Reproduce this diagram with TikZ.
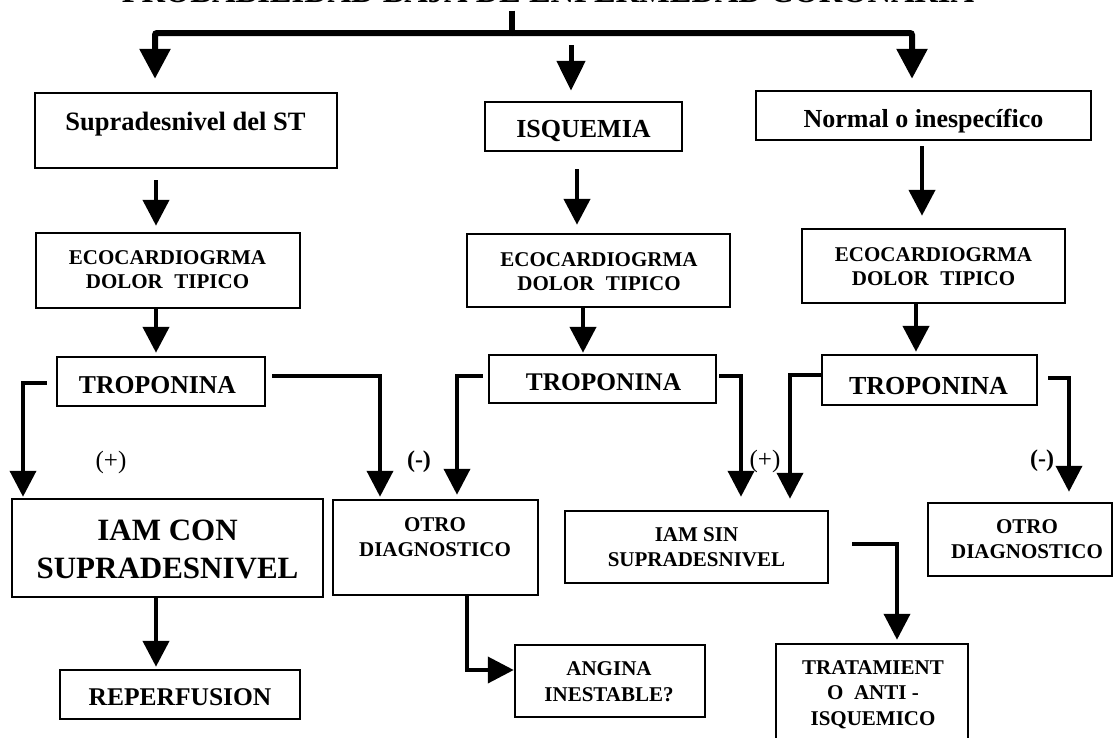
\documentclass[tikz,border=0pt]{standalone}
\usepackage{fontspec}
\setmainfont{Liberation Serif}
\usetikzlibrary{arrows.meta}
\newcommand\mlines[1]{\begin{tabular}[t]{@{}c@{}}#1\end{tabular}}
\newcommand\fsz[2]{\fontsize{#1}{#2}\selectfont}
\newcommand\mkbox[5]{%
  \pgfmathsetmacro\mkbcx{(#2+#4)/2}%
  \pgfmathsetmacro\mkbcy{(#3+#5)/2}%
  \pgfmathsetmacro\mkbw{#4-#2}%
  \pgfmathsetmacro\mkbh{#5-#3}%
  \node[box, minimum width=\mkbw pt, minimum height=\mkbh pt] (#1) at (\mkbcx,\mkbcy) {};}
\begin{document}
\begin{tikzpicture}[x=1pt,y=-1pt,
  box/.style={draw, line width=2.5pt, inner sep=0pt, rectangle},
  lbl/.style={anchor=base, inner sep=0pt},
  arr/.style={line width=4.5pt, -{Triangle[length=26pt,width=26pt]}},
  bendarr/.style={line width=4pt, -{Triangle[length=26pt,width=26pt]}},
  toparr/.style={line width=6pt, rounded corners=2pt, -{Triangle[length=30pt,width=30pt]}},
  big/.style={font=\bfseries\fsz{26.5}{30}},
  small/.style={font=\bfseries\fsz{21}{24}},
  sign/.style={anchor=center, inner sep=0pt, font=\fsz{25}{28}},
]
\useasboundingbox (0,0) rectangle (1114,737);
\fill[white] (0,0) rectangle (1114,737);

% title (cut at top edge, as in the reference)
\node[lbl, font=\bfseries\fsz{32.5}{36}] (title) at (548,2.5) {PROBABILIDAD BAJA DE ENFERMEDAD CORONARIA};

% boxes
\mkbox{st}{35}{93}{337}{168}
\mkbox{isq}{485}{102}{682}{151}
\mkbox{nor}{756}{91}{1091}{140}
\mkbox{eco1}{36}{233}{300}{308}
\mkbox{eco2}{467}{234}{730}{307}
\mkbox{eco3}{802}{229}{1065}{303}
\mkbox{trop1}{57}{357}{265}{406}
\mkbox{trop2}{489}{355}{716}{403}
\mkbox{trop3}{822}{355}{1037}{405}
\mkbox{iamcon}{12}{499}{323}{597}
\mkbox{otro1}{333}{500}{538}{595}
\mkbox{iamsin}{565}{511}{828}{583}
\mkbox{otro2}{928}{503}{1112}{576}
\mkbox{rep}{60}{670}{300}{719}
\mkbox{ang}{515}{645}{705}{717}
\mkbox{trat}{776}{644}{968}{770}

% texts
\node[lbl, big] (stT) at (185.5,130) {Supradesnivel del ST};
\node[lbl, font=\bfseries\fsz{26}{30}] (isqT) at (583.5,137) {ISQUEMIA};
\node[lbl, font=\bfseries\fsz{26}{30}] (norT) at (923.5,127) {Normal o inespecífico};
\node[lbl, small] (eco1T) at (167.5,264) {\mlines{ECOCARDIOGRMA\\DOLOR\hspace{0.55em}TIPICO}};
\node[lbl, small] (eco2T) at (599,266) {\mlines{ECOCARDIOGRMA\\DOLOR\hspace{0.55em}TIPICO}};
\node[lbl, small] (eco3T) at (933.5,261) {\mlines{ECOCARDIOGRMA\\DOLOR\hspace{0.55em}TIPICO}};
\node[lbl, font=\bfseries\fsz{25.7}{30}] (trop1T) at (157.5,393) {TROPONINA};
\node[lbl, font=\bfseries\fsz{25.4}{30}] (trop2T) at (603.5,390) {TROPONINA};
\node[lbl, font=\bfseries\fsz{26}{30}] (trop3T) at (928.5,394) {TROPONINA};
\node[lbl, font=\bfseries\fsz{31}{38}] (iamconT) at (167.5,540) {\mlines{IAM CON\\SUPRADESNIVEL}};
\node[lbl, font=\bfseries\fsz{25.5}{30}] (repT) at (180,705) {REPERFUSION};
\node[lbl, font=\bfseries\fsz{21}{25}] (otro1T) at (435,531) {\mlines{OTRO\\DIAGNOSTICO}};
\node[lbl, font=\bfseries\fsz{21}{25}] (otro2T) at (1027,533) {\mlines{OTRO\\DIAGNOSTICO}};
\node[lbl, font=\bfseries\fsz{21}{25}] (iamsinT) at (696.5,541) {\mlines{IAM SIN\\SUPRADESNIVEL}};
\node[lbl, font=\bfseries\fsz{21}{26}] (angT) at (609,675) {\mlines{ANGINA\\INESTABLE?}};
\node[lbl, font=\bfseries\fsz{21}{25.5}] (tratT) at (873,674) {\mlines{TRATAMIENT\\O\hspace{0.5em}ANTI -\\ISQUEMICO}};

% signs
\node[sign] (p1) at (111,462) {(+)};
\node[sign, font=\bfseries\fsz{24}{27}] (m1) at (419,462) {(-)};
\node[sign] (p2) at (765,461) {(+)};
\node[sign, font=\bfseries\fsz{24}{27}] (m2) at (1042,461) {(-)};

% top connectors
\coordinate (hub) at (512,33);
\coordinate (hl) at (155,33);
\coordinate (hr) at (912,33);
\coordinate (mtop) at (571,45);
\draw[line width=6pt, shorten <=7.5pt] (title.south -| hub) -- (hub);
\draw[toparr, shorten >=13pt] (hub) -- (hl) -- (st.north -| hl);
\draw[toparr, shorten >=11pt] (hub) -- (hr) -- (nor.north -| hr);
\draw[line width=5pt, -{Triangle[length=30pt,width=28pt]}, shorten >=10pt] (mtop) -- (isq.north -| mtop);

% vertical arrows
\draw[arr, shorten <=11pt, shorten >=6pt] (st.south -| 156,0) -- (eco1.north -| 156,0);
\draw[arr, shorten >=3pt] (eco1.south -| 156,0) -- (trop1.north -| 156,0);
\draw[arr, shorten >=2pt] (iamcon.south -| 156,0) -- (rep.north -| 156,0);
\draw[arr, shorten <=17pt, shorten >=8pt] (isq.south -| 577,0) -- (eco2.north -| 577,0);
\draw[arr, shorten >=1pt] (eco2.south -| 583,0) -- (trop2.north -| 583,0);
\draw[arr, shorten <=5pt, shorten >=12pt] (nor.south -| 922,0) -- (eco3.north -| 922,0);
\draw[arr, shorten >=2pt] (eco3.south -| 916,0) -- (trop3.north -| 916,0);

% troponina branches
\draw[bendarr, shorten <=9pt, shorten >=1pt] (trop1.west |- 0,383) -| (iamcon.north -| 23,0);
\draw[bendarr, shorten <=6pt, shorten >=2pt] (trop1.east |- 0,376) -| (otro1.north -| 380,0);
\draw[bendarr, shorten <=5pt, shorten >=4pt] (trop2.west |- 0,376) -| (otro1.north -| 457,0);
\draw[bendarr, shorten <=2pt, shorten >=13pt] (trop2.east |- 0,376) -| (iamsin.north -| 741,0);
\draw[bendarr, shorten >=11pt] (trop3.west |- 0,375) -| (iamsin.north -| 790,0);
\draw[bendarr, shorten <=10pt, shorten >=10pt] (trop3.east |- 0,378) -| (otro2.north -| 1069,0);

% lower branches
\draw[bendarr] (otro1.south -| 467,0) |- (ang.west |- 0,670);
\draw[bendarr, shorten <=23pt, shorten >=3pt] (iamsin.east |- 0,544) -| (trat.north -| 897,0);
\end{tikzpicture}
\end{document}
